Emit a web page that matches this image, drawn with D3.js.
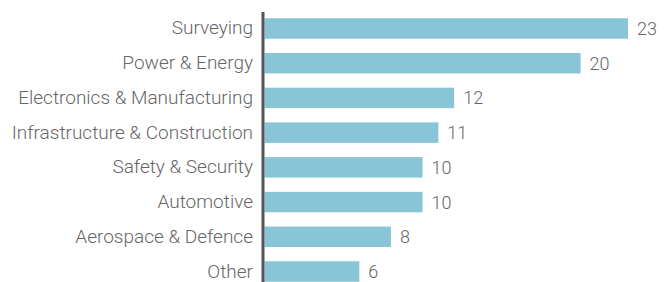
<!DOCTYPE html>
<html>
<head>
<meta charset="utf-8">
<script src="https://cdn.jsdelivr.net/npm/d3@7"></script>
<style>
  body { margin: 0; background: #fff; }
  svg text { font-family: Roboto, "Noto Sans", sans-serif; font-weight: 300; fill: #666; }
</style>
</head>
<body>
<div id="chart"></div>
<script>
var categories = ["Surveying", "Power & Energy", "Electronics & Manufacturing", "Infrastructure & Construction",
  "Safety & Security", "Automotive", "Aerospace & Defence", "Other"];
var values = [23, 20, 12, 11, 10, 10, 8, 6];

var width = 669, height = 282;
var axisX = 263;

var svg = d3.select("#chart").append("svg")
  .attr("width", width)
  .attr("height", height);

var x = d3.scaleLinear().domain([0, 23]).range([axisX + 1.5, 628]);
var y = d3.scaleBand().domain(categories).range([12, 288]).paddingInner(0.41).paddingOuter(0.18);

svg.append("g")
  .selectAll("rect")
  .data(values)
  .enter().append("rect")
  .attr("x", x(0))
  .attr("y", function (d, i) { return y(categories[i]); })
  .attr("width", function (d) { return x(d) - x(0); })
  .attr("height", y.bandwidth())
  .style("fill", "#8ac5d7");

// category labels
svg.append("g")
  .selectAll("text")
  .data(categories)
  .enter().append("text")
  .attr("x", axisX - 10)
  .attr("y", function (d) { return y(d) + y.bandwidth() / 2 + 6; })
  .style("text-anchor", "end")
  .style("font-size", "19px")
  .text(function (d) { return d; });

// value labels
svg.append("g")
  .selectAll("text")
  .data(values)
  .enter().append("text")
  .attr("x", function (d) { return x(d) + 9; })
  .attr("y", function (d, i) { return y(categories[i]) + y.bandwidth() / 2 + 6.5; })
  .style("font-size", "18px")
  .text(function (d) { return d; });

svg.append("line")
  .attr("x1", axisX).attr("x2", axisX)
  .attr("y1", 12).attr("y2", height)
  .style("stroke", "#555")
  .style("stroke-width", 3);
</script>
</body>
</html>
